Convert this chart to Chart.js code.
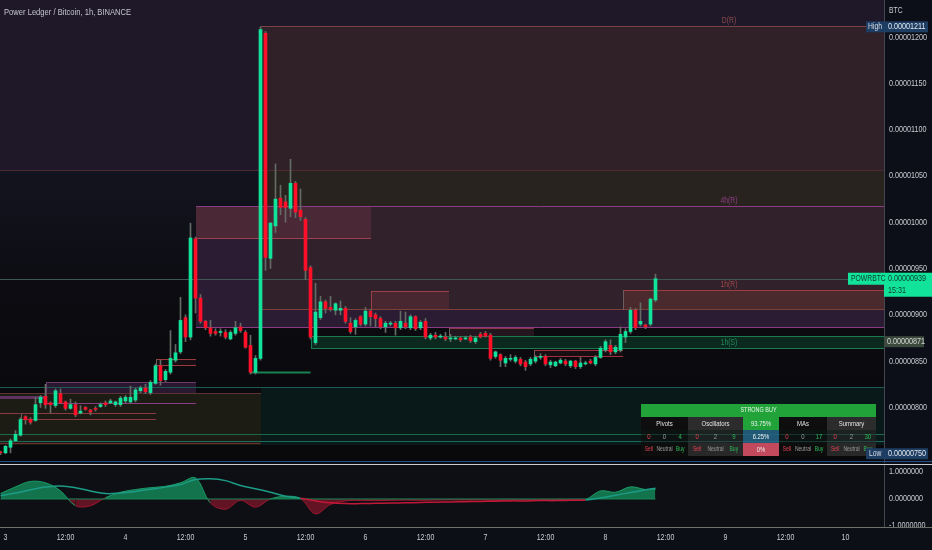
<!DOCTYPE html>
<html><head><meta charset="utf-8">
<script src="https://cdn.jsdelivr.net/npm/chart.js@4.4.1/dist/chart.umd.min.js"></script>
<style>
html,body{margin:0;padding:0;width:932px;height:550px;overflow:hidden;background:#0c0f17}
canvas{position:absolute;left:0;display:block}
#c1{top:0}#c2{top:463px}
</style></head><body>
<canvas id="c1" width="932" height="463"></canvas>
<canvas id="c2" width="932" height="87"></canvas>
<script>
// ---------- DATA (prices in satoshi, 1e-8 BTC) ----------
const title = 'Power Ledger / Bitcoin, 1h, BINANCE';
const firstHour = -1; // hours from the 3rd, 00:00
const opens  = [752,751,757,764,770,790,787,786,805,812,805,802,815,806,799,803,794,800,797,799,801,805,805,803,803,807,806,808,818,821,816,826,845,830,838,851,860,897,876,982,918,893,886,882,881,881,874,880,887,881,867,838,853,1204,961,996,1026,1022,1015,1042,1013,1003,951,870,897,914,908,905,905,907,891,887,898,890,904,900,896,887,890,891,886,891,886,898,886,893,875,878,876,876,874,874,875,874,876,871,879,880,878,855,857,848,852,850,852,849,847,850,854,855,846,845,848,850,845,850,844,847,850,847,854,862,867,860,862,876,882,905,890,889,890,916];
const highs  = [753,759,766,775,789,791,789,811,813,825,806,820,820,807,809,806,802,801,798,801,805,807,809,807,812,813,823,821,823,825,829,847,851,841,883,868,919,900,999,984,922,894,894,885,885,884,883,893,891,883,878,856,1211,1206,1000,1063,1040,1029,1068,1044,1036,1005,953,934,920,916,920,913,915,909,897,896,899,908,906,902,898,893,893,893,904,903,900,899,894,896,880,881,879,881,879,877,876,877,878,877,881,882,880,861,858,855,857,856,854,851,854,856,858,857,851,850,853,852,851,851,854,850,852,856,866,873,873,867,887,885,908,907,913,890,918,944];
const lows   = [749,750,751,763,769,782,782,785,800,799,794,800,804,797,798,790,793,797,792,796,800,801,804,801,801,805,804,806,816,815,814,825,824,828,836,849,858,871,873,902,891,884,877,878,877,874,873,878,881,864,836,836,851,948,950,989,1008,1000,1006,1005,1002,938,874,868,895,902,904,900,900,891,880,879,888,888,888,887,885,881,888,878,884,885,884,883,884,874,873,874,875,872,871,873,871,873,870,869,875,876,851,853,844,844,850,848,845,840,845,848,852,845,843,844,847,845,843,842,842,846,847,845,853,860,857,858,860,870,880,884,888,885,888,914];
const closes = [751,758,764,771,787,787,784,803,811,803,803,818,805,799,803,792,796,798,795,798,803,803,807,806,810,811,811,819,821,817,827,845,829,839,853,859,894,876,983,918,893,886,880,880,882,876,881,886,883,865,838,853,1208,962,999,1025,1016,1016,1042,1011,1006,948,876,903,914,907,906,912,907,893,882,894,890,904,898,896,887,891,891,886,893,887,898,885,892,876,878,876,877,874,875,875,873,875,872,875,876,877,853,860,851,853,853,854,847,844,852,854,855,847,849,849,851,847,850,844,848,848,848,854,864,871,860,865,879,882,905,886,893,887,917,939];
const priceTicks = [750,800,850,900,950,1000,1050,1100,1150,1200];
const timeTicks = [0,12,24,36,48,60,72,84,96,108,120,132,144,156,168];
const dayNames = ['3','4','5','6','7','8','9','10'];
const oscTicks = [1,0,-1];
const symbol = 'POWRBTC', countdown = '15:31';
const highPrice = 1211, lowPrice = 750, lastPrice = 939, markPrice = 871;

const oscHours  = [-1,2,5,8,11,14,17,20,23,26,29,32,35,38,41,44,47,50,53,56,59,62,65,68,71,74,77,80,83,86,89,92,95,98,101,104,107,110,113,116,119,122,125,128,130];
const oscValues = [0.2,0.45,0.65,0.6,0.3,-0.25,-0.25,0.05,0.25,0.35,0.42,0.47,0.6,0.78,-0.15,-0.38,-0.05,-0.3,0.0,0.1,0.02,-0.55,-0.2,-0.07,-0.05,-0.06,-0.05,-0.04,-0.05,-0.04,-0.03,-0.04,-0.03,-0.05,-0.04,-0.03,-0.04,-0.03,-0.04,-0.02,0.3,0.25,0.45,0.35,0.35];
const oscSignal = [0.12,0.22,0.34,0.44,0.48,0.42,0.3,0.2,0.22,0.28,0.36,0.44,0.54,0.72,0.75,0.68,0.5,0.38,0.25,0.1,0.03,-0.07,-0.14,-0.17,-0.17,-0.16,-0.15,-0.14,-0.13,-0.12,-0.11,-0.1,-0.09,-0.08,-0.07,-0.07,-0.06,-0.06,-0.05,-0.04,0.04,0.14,0.24,0.34,0.4];

// zones: [startHour, endHour, lowPrice, highPrice]
const zones = [
 [-2,180,1056,1300],[51,180,1056,1212],[51,180,1017.5,1056],[38,180,886,1017.5],
 [51,180,905,1017.5],[38,73,982,1017.5],[73,88.7,905,926],[123.5,180,905,927],
 [88.7,105.7,876,886],[61,180,863,877],[105.7,123.5,854.5,862],[30,38,845,852.5],
 [8,38,804,827],[51,180,759,822],[-2,51,759,815.6],[-2,8,809,812],[3,30,786,794]
];
// levels: [startHour, endHour, price]
const levels = [[-2,180,1056],[-2,180,939],[-2,180,822],[-2,3,794],[-2,180,771],[-2,180,764],[-2,51,762],[49,61,838]];
const zoneTags = [['D(R)',1],['4h(R)',3],['1h(R)',7],['1h(S)',9]];
const tagHour = 144.7;

// rating table
const tableHeader = 'STRONG BUY';
const groupNames = ['Pivots','Oscillators','MAs','Summary'];
const groupCounts = [[0,0,4],[0,2,9],[0,0,17],[0,2,30]];
const countNames = ['Sell','Neutral','Buy'];
const ratingPct = ['93.75%','6.25%','0%'];

// ---------- STYLE ----------
const FONT = "'Liberation Sans',Arial,sans-serif";
const SX = 0.8; // horizontal condensing of text
const GREEN='#12e39b', RED='#ff1028', WICK='#646b65', TXT='#c8cbd2';
const X_MIN=-1.1, X_MAX=175.7;
const zoneStyles = [
 {fill:'#1f1829'},
 {fill:'#2f2127', top:'#7b4347'},
 {fill:'#29231f'},
 {fill:'#2b1c33', top:'#8b3c84', bottom:'#8b3c84'},
 {fill:'#30212a', bottom:'#7a4237'},
 {fill:'#4b2835', bottom:'#9c4152'},
 {fill:'#482731', top:'#9c4048', left:'#9c4048'},
 {fill:'#4a2a2d', top:'#a23c43', left:'#6d5d5d'},
 {fill:'#24161f', top:'#8a3848', left:'#6d5d5d'},
 {fill:'#0b291e', top:'#1b7a52', bottom:'#1b7a52', left:'#1b7a52'},
 {fill:'#160e13', top:'#a3303f', bottom:'#a3303f', left:'#6d5d5d'},
 {fill:'#170e13', top:'#9a3a40', bottom:'#9a3a40', left:'#6d5d5d'},
 {fill:'#2a1831', top:'#6a3a6a', bottom:'#8b3c84', left:'#6a3a6a'},
 {fill:'#091818'},
 {fill:'#1c1c15', top:'#5c3232'},
 {fill:'#5e3360'},
 {fill:'#1d1a14', top:'#8a3a40', bottom:'#8a3a40', left:'#6d5d5d'}
];
const levelStyles = [
 ['#4d2a31',1],['#3c5754',1],['#1a5b55',1],['#8a3a40',1],['#1a6a48',1],['#1b6a5c',1],['#6a3030',1],['#1b8052',2]
];
const tagColors = ['#8c4a4c','#8b3c84','#a0474a','#1f8a5c'];

const fmtPrice = v => (v*1e-8).toFixed(8);

function hline(ctx,x0,x1,yy,color,w){ctx.strokeStyle=color;ctx.lineWidth=w;ctx.beginPath();ctx.moveTo(x0,yy);ctx.lineTo(x1,yy);ctx.stroke();}
function vline(ctx,xx,y0,y1,color){ctx.strokeStyle=color;ctx.lineWidth=1;ctx.beginPath();ctx.moveTo(xx,y0);ctx.lineTo(xx,y1);ctx.stroke();}
function label(ctx,text,x,y,color,size,align,sx){
  ctx.save(); ctx.fillStyle=color; ctx.font=size+'px '+FONT; ctx.textAlign=align||'left'; ctx.textBaseline='middle';
  ctx.translate(x,y); ctx.scale(sx||SX,1); ctx.fillText(text,0,0); ctx.restore();
}

function drawTable(ctx){
  const tx=641, ty=404, widths=[47,55,36,48,49], rh=13;
  const W=widths.reduce((p,c)=>p+c,0);
  ctx.fillStyle='#22a33a'; ctx.fillRect(tx,ty,W,rh);
  label(ctx,tableHeader,tx+W/2,ty+6.5,'#e8f5e8',7,'center',0.78);
  const groupBg=['rgba(14,14,14,A)','rgba(44,44,44,A)','rgba(14,14,14,A)','rgba(44,44,44,A)'];
  const pctBg=['#22a33a','rgba(38,100,135,0.85)','#c24a5c'];
  const rowAlpha=[1,0.55,0.9];
  const cntColors=['#e0424f','#9a9a9a','#2dbd5a'];
  for(let r=0;r<3;r++){
    const ry=ty+rh+r*rh;
    let cx=tx, g=0;
    for(let c=0;c<5;c++){
      const w=widths[c];
      if(c===2){ ctx.fillStyle=pctBg[r]; ctx.fillRect(cx,ry,w,rh); label(ctx,ratingPct[r],cx+w/2,ry+6.5,'#eef0f0',7.5,'center',0.78); }
      else {
        ctx.fillStyle=groupBg[g].replace('A',rowAlpha[r]); ctx.fillRect(cx,ry,w,rh);
        if(r===0) label(ctx,groupNames[g],cx+w/2,ry+6.5,'#e2e2e2',7.5,'center',0.8);
        else for(let s=0;s<3;s++){ const sx=cx+w*(2*s+1)/6;
          if(r===1) label(ctx,String(groupCounts[g][s]),sx,ry+6.5,cntColors[s],7.5,'center',0.8);
          else label(ctx,countNames[s],sx,ry+6.5,cntColors[s],7,'center',0.72); }
        g++;
      }
      cx+=w;
    }
  }
}

const mainDeco = {
  id:'mainDeco',
  beforeDraw(chart){
    const {ctx, chartArea:a} = chart;
    ctx.save();
    ctx.fillStyle='#0c0f17'; ctx.fillRect(0,0,chart.width,chart.height);
    const g=ctx.createLinearGradient(0,a.top,0,a.bottom);
    g.addColorStop(0,'#1d1727'); g.addColorStop(0.37,'#13141f'); g.addColorStop(0.66,'#0b0b10'); g.addColorStop(1,'#09090c');
    ctx.fillStyle=g; ctx.fillRect(a.left,a.top,a.right-a.left,a.bottom-a.top);
    ctx.restore();
  },
  beforeDatasetsDraw(chart){
    const {ctx, chartArea:a, scales:{x,y}} = chart;
    ctx.save(); ctx.beginPath(); ctx.rect(a.left,a.top,a.right-a.left,a.bottom-a.top); ctx.clip();
    const box = z => ({x0:Math.round(x.getPixelForValue(z[0])), x1:Math.round(x.getPixelForValue(z[1])), y0:Math.round(y.getPixelForValue(z[3])), y1:Math.round(y.getPixelForValue(z[2]))});
    zones.forEach((z,i)=>{const b=box(z); ctx.fillStyle=zoneStyles[i].fill; ctx.fillRect(b.x0,b.y0,b.x1-b.x0,b.y1-b.y0);});
    levels.forEach((l,i)=>{const yy=Math.round(y.getPixelForValue(l[2]))+0.5; hline(ctx,x.getPixelForValue(l[0]),x.getPixelForValue(l[1]),yy,levelStyles[i][0],levelStyles[i][1]);});
    zones.forEach((z,i)=>{const b=box(z), s=zoneStyles[i];
      if(s.top) hline(ctx,b.x0,b.x1,b.y0+0.5,s.top,1);
      if(s.bottom) hline(ctx,b.x0,b.x1,b.y1-0.5,s.bottom,1);
      if(s.left) vline(ctx,b.x0+0.5,b.y0,b.y1,s.left);
    });
    zoneTags.forEach(([t,zi],k)=>{const b=box(zones[zi]); const tx=x.getPixelForValue(tagHour);
      const ty = k===3 ? (b.y0+b.y1)/2 : b.y0-5;
      label(ctx,t,tx,ty,tagColors[k],8.5,'center');});
    ctx.restore();
  },
  afterDraw(chart){
    const {ctx, chartArea:a, scales:{y}} = chart;
    ctx.save();
    drawTable(ctx);
    vline(ctx,a.right+0.5,0,chart.height,'#434651');
    hline(ctx,0,chart.width,chart.height-1.5,'#24508a',1);
    y.ticks.forEach(t=>label(ctx,fmtPrice(t.value),a.right+5,y.getPixelForValue(t.value),TXT,9,'left'));
    label(ctx,title,4,12,'#c3c6cd',9.5,'left');
    label(ctx,'BTC',889,11,TXT,8.5,'left');
    const ax=a.right;
    let yy=y.getPixelForValue(highPrice);
    ctx.fillStyle='#1d3d63'; ctx.fillRect(ax-18,yy-5.5,18,11); ctx.fillRect(ax,yy-5.5,44,11);
    label(ctx,'High',ax-16,yy,'#d8dde6',8.5); label(ctx,fmtPrice(highPrice),ax+4,yy,'#e4e8ee',9);
    yy=y.getPixelForValue(lastPrice);
    ctx.fillStyle=GREEN; ctx.fillRect(ax-36,yy-6,36,12); ctx.fillRect(ax,yy-6,48,24);
    label(ctx,symbol,ax-33,yy,'#0d3b2c',8.5); label(ctx,fmtPrice(lastPrice),ax+4,yy,'#0d3b2c',9); label(ctx,countdown,ax+4,yy+12,'#0d3b2c',9);
    yy=y.getPixelForValue(markPrice);
    ctx.fillStyle='#3b4a3d'; ctx.fillRect(ax,yy-5.5,40,11);
    label(ctx,fmtPrice(markPrice),ax+3,yy,'#d6d8d6',9);
    yy=y.getPixelForValue(lowPrice);
    ctx.fillStyle='#1d3d63'; ctx.fillRect(ax-18,yy-5.5,18,11); ctx.fillRect(ax,yy-5.5,44,11);
    label(ctx,'Low',ax-15,yy,'#d8dde6',8.5); label(ctx,fmtPrice(lowPrice),ax+4,yy,'#e4e8ee',9);
    ctx.restore();
  }
};

const hoursOf = opens.map((_,i)=>firstHour+i);
const bodies = opens.map((o,i)=>({x:hoursOf[i], y:[o,closes[i]]}));
const wicks  = opens.map((o,i)=>({x:hoursOf[i], y:[lows[i],highs[i]]}));
const bodyColors = opens.map((o,i)=>closes[i]>=o?GREEN:RED);

new Chart(document.getElementById('c1'),{
  type:'bar',
  data:{datasets:[
    {data:bodies, backgroundColor:bodyColors, barThickness:3, minBarLength:1, grouped:false, order:0, borderWidth:0},
    {data:wicks, backgroundColor:WICK, barThickness:1, grouped:false, order:1, borderWidth:0}
  ]},
  options:{
    responsive:false, animation:false, events:[], devicePixelRatio:1,
    layout:{padding:0},
    plugins:{legend:{display:false}, tooltip:{enabled:false}},
    scales:{
      x:{type:'linear', display:false, min:X_MIN, max:X_MAX, offset:false, grid:{display:false}},
      y:{type:'linear', position:'right', min:740, max:1240,
         grid:{display:false, drawTicks:false}, border:{display:false},
         ticks:{display:false},
         afterBuildTicks:s=>{s.ticks=priceTicks.map(v=>({value:v}));},
         afterFit:s=>{s.width=48; s.paddingTop=0; s.paddingBottom=0;}}
    }
  },
  plugins:[mainDeco]
});

const oscDeco = {
  id:'oscDeco',
  beforeDraw(chart){
    const {ctx, chartArea:a} = chart;
    ctx.save();
    ctx.fillStyle='#0c0f16'; ctx.fillRect(0,0,chart.width,chart.height);
    ctx.fillStyle='#0d0f14'; ctx.fillRect(a.left,a.top,a.right-a.left,a.bottom-a.top);
    ctx.restore();
  },
  afterDraw(chart){
    const {ctx, chartArea:a, scales:{x,y}} = chart;
    ctx.save();
    hline(ctx,0,chart.width,1.5,'#c9cbd1',1);
    vline(ctx,a.right+0.5,2,a.bottom,'#434651');
    ctx.save(); ctx.beginPath(); ctx.rect(a.right+1,2,60,a.bottom-2); ctx.clip();
    y.ticks.forEach(t=>label(ctx,t.value.toFixed(7),a.right+5,y.getPixelForValue(t.value),TXT,9,'left'));
    ctx.restore();
    hline(ctx,0,chart.width,a.bottom+0.5,'#6b7268',1);
    x.ticks.forEach(t=>{const v=t.value; label(ctx, v%24===0?dayNames[v/24]:'12:00', x.getPixelForValue(v), a.bottom+11, TXT, 9, 'center', 0.78);});
    ctx.restore();
  }
};
const sgn = c => (c.p0.parsed.y + c.p1.parsed.y) >= 0;
new Chart(document.getElementById('c2'),{
  type:'line',
  data:{datasets:[
    {data:oscHours.map((h,i)=>({x:h,y:oscSignal[i]})), borderWidth:1.5, pointRadius:0, tension:0.4, fill:false,
     segment:{borderColor:c=>sgn(c)?'#1c9c86':'#c21838'}, order:0},
    {data:[{x:oscHours[0],y:0},{x:oscHours[oscHours.length-1],y:0}], borderColor:'#1a8a5a', borderWidth:1, pointRadius:0, order:1},
    {data:oscHours.map((h,i)=>({x:h,y:oscValues[i]})), borderWidth:1, pointRadius:0, tension:0.35,
     fill:{target:'origin', above:'rgba(20,140,90,0.8)', below:'rgba(120,20,40,0.8)'},
     segment:{borderColor:c=>sgn(c)?'#1b9a66':'#a0182f'}, order:2}
  ]},
  options:{
    responsive:false, animation:false, events:[], devicePixelRatio:1,
    layout:{padding:{top:2,left:0,right:0,bottom:0}},
    plugins:{legend:{display:false}, tooltip:{enabled:false}},
    scales:{
      x:{type:'linear', min:X_MIN, max:X_MAX, offset:false, grid:{display:false, drawTicks:false}, border:{display:false},
         ticks:{display:false},
         afterBuildTicks:s=>{s.ticks=timeTicks.map(v=>({value:v}));},
         afterFit:s=>{s.height=23; s.paddingLeft=0; s.paddingRight=0;}},
      y:{type:'linear', position:'right', min:-1.037, max:1.259, grid:{display:false, drawTicks:false}, border:{display:false},
         ticks:{display:false},
         afterBuildTicks:s=>{s.ticks=oscTicks.map(v=>({value:v}));},
         afterFit:s=>{s.width=48; s.paddingTop=0; s.paddingBottom=0;}}
    }
  },
  plugins:[oscDeco]
});
</script></body></html>
